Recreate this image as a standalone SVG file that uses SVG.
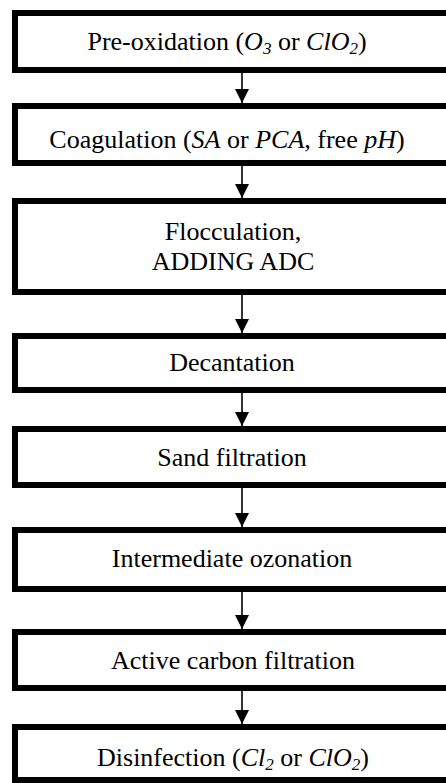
<svg xmlns="http://www.w3.org/2000/svg" width="446" height="783" viewBox="0 0 446 783">
<defs>
<style>
.box{fill:#fff;stroke:#000;stroke-width:6}
.lbl{font-family:'Liberation Serif','DejaVu Serif',serif;font-size:26px;fill:#000;text-anchor:middle}
.it{font-style:italic}
.sub{font-size:17px}
.conn{stroke:#000;stroke-width:1.6;fill:none}
</style>
<marker id="ah" markerWidth="14" markerHeight="14" refX="14" refY="7" orient="auto" markerUnits="userSpaceOnUse">
<path d="M0,0 L14,7 L0,14 Z" fill="#000"/>
</marker>
</defs>
<rect width="446" height="783" fill="#fff"/>
<g id="connectors">
<line class="conn" x1="242" y1="73" x2="242" y2="103" marker-end="url(#ah)"/>
<line class="conn" x1="242" y1="166" x2="242" y2="198" marker-end="url(#ah)"/>
<line class="conn" x1="242" y1="295" x2="242" y2="333" marker-end="url(#ah)"/>
<line class="conn" x1="242" y1="393" x2="242" y2="426" marker-end="url(#ah)"/>
<line class="conn" x1="242" y1="488" x2="242" y2="527" marker-end="url(#ah)"/>
<line class="conn" x1="242" y1="592" x2="242" y2="629" marker-end="url(#ah)"/>
<line class="conn" x1="242" y1="691" x2="242" y2="724" marker-end="url(#ah)"/>
</g>
<g font-family="Liberation Serif, DejaVu Serif, serif">
<g id="n1">
<rect class="box" x="15" y="13" width="440" height="57"/>
<text class="lbl" font-family="Liberation Serif" x="227" y="50">Pre-oxidation (<tspan class="it">O</tspan><tspan class="it sub" dy="4">3</tspan><tspan dy="-4"> or </tspan><tspan class="it">ClO</tspan><tspan class="it sub" dy="4">2</tspan><tspan dy="-4">)</tspan></text>
</g>
<g id="n2">
<rect class="box" x="15" y="106" width="440" height="57"/>
<text class="lbl" font-family="Liberation Serif" x="227" y="148">Coagulation (<tspan class="it">SA</tspan> or <tspan class="it">PCA</tspan>, free <tspan class="it">pH</tspan>)</text>
</g>
<g id="n3">
<rect class="box" x="15" y="201" width="440" height="91"/>
<text class="lbl" font-family="Liberation Serif" x="233" y="240">Flocculation,</text>
<text class="lbl" font-family="Liberation Serif" x="233" y="270">ADDING ADC</text>
</g>
<g id="n4">
<rect class="box" x="15" y="336" width="440" height="54"/>
<text class="lbl" font-family="Liberation Serif" x="232" y="371">Decantation</text>
</g>
<g id="n5">
<rect class="box" x="15" y="429" width="440" height="56"/>
<text class="lbl" font-family="Liberation Serif" x="232" y="466">Sand filtration</text>
</g>
<g id="n6">
<rect class="box" x="15" y="530" width="440" height="59"/>
<text class="lbl" font-family="Liberation Serif" x="232" y="567">Intermediate ozonation</text>
</g>
<g id="n7">
<rect class="box" x="15" y="632" width="440" height="56"/>
<text class="lbl" font-family="Liberation Serif" x="233" y="669">Active carbon filtration</text>
</g>
<g id="n8">
<rect class="box" x="15" y="727" width="440" height="53"/>
<text class="lbl" font-family="Liberation Serif" x="233" y="766">Disinfection (<tspan class="it">Cl</tspan><tspan class="it sub" dy="4">2</tspan><tspan dy="-4"> or </tspan><tspan class="it">ClO</tspan><tspan class="it sub" dy="4">2</tspan><tspan dy="-4">)</tspan></text>
</g>
</g>
</svg>
